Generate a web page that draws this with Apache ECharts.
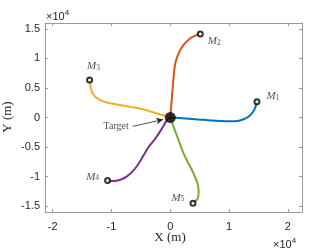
<!DOCTYPE html>
<html><head><meta charset="utf-8">
<script src="https://cdn.jsdelivr.net/npm/echarts@6/dist/echarts.min.js"></script>
<style>html,body{margin:0;padding:0;background:#fff}#c{width:333px;height:250px}</style>
</head><body><div id="c"></div>
<script>
// values in units of 1e4 m
const m1Path = [[1.474,0.265],[1.434,0.141],[1.361,0.039],[1.247,-0.029],[1.105,-0.063],[0.935,-0.063],[0.709,-0.051],[0.482,-0.034],[0.255,-0.017],[0,0]];
const m2Path = [[0.510,1.414],[0.425,1.386],[0.340,1.341],[0.227,1.228],[0.142,1.087],[0.085,0.917],[0.057,0.689],[0.034,0.407],[0,0]];
const m3Path = [[-1.372,0.633],[-1.361,0.548],[-1.332,0.435],[-1.276,0.350],[-1.190,0.294],[-1.077,0.255],[-0.907,0.221],[-0.680,0.180],[-0.454,0.136],[-0.226,0.068],[0,0]];
const m4Path = [[-1.066,-1.065],[-0.964,-1.076],[-0.850,-1.053],[-0.737,-0.997],[-0.624,-0.895],[-0.539,-0.781],[-0.454,-0.640],[-0.369,-0.499],[-0.255,-0.357],[-0.141,-0.187],[-0.056,-0.046],[0,0]];
const m5Path = [[0.386,-1.45],[0.465,-1.375],[0.482,-1.263],[0.465,-1.121],[0.397,-0.951],[0.312,-0.781],[0.227,-0.611],[0.142,-0.385],[0.057,-0.160],[0,0]];
const missileNames = ['1','2','3','4','5'];
const pathColors = ['#0072BD','#D95319','#EDB120','#7E2F8E','#77AC30'];
const target = [0,0];
const targetLabelPos = [-0.92,-0.15];
const arrowStart = [-0.64,-0.15];
const arrowEnd = [-0.12,-0.035];
const xRange = [-2.13, 2.24];
const yRange = [-1.6, 1.6];

const paths = [m1Path,m2Path,m3Path,m4Path,m5Path];
const labelPlacement = [
  {position:'right', offset:[1,-7]},
  {position:'right', offset:[-1,6]},
  {position:'top', offset:[4,0]},
  {position:'left', offset:[0,-5]},
  {position:'left', offset:[0,-7]}
];
const tickFont = {fontFamily:'Liberation Sans, Arial, sans-serif', fontSize:11, color:'#262626'};
const axisCol = '#9a9a9a';
function axisX(pos, showLabel){
  return {type:'value', position:pos, min:xRange[0], max:xRange[1], splitNumber:5,
    axisLine:{show:true, onZero:false, lineStyle:{color:axisCol,width:1}},
    axisTick:{show:true, inside:true, length:3, lineStyle:{color:axisCol}},
    axisLabel:Object.assign({show:showLabel, margin:9, showMinLabel:false, showMaxLabel:false}, tickFont),
    splitLine:{show:false}};
}
function axisY(pos, showLabel){
  return {type:'value', position:pos, min:yRange[0], max:yRange[1], splitNumber:6,
    axisLine:{show:true, onZero:false, lineStyle:{color:axisCol,width:1}},
    axisTick:{show:true, inside:true, length:3, lineStyle:{color:axisCol}},
    axisLabel:Object.assign({show:showLabel, margin:5, showMinLabel:false, showMaxLabel:false}, tickFont),
    splitLine:{show:false}};
}
const series = [];
paths.forEach((p,i)=>{
  series.push({type:'line', data:p, smooth:0.35, showSymbol:false, symbol:'none',
    lineStyle:{color:pathColors[i], width:2}, z:2, silent:true});
});
series.push({type:'scatter', z:5, silent:true,
  data: paths.map((p,i)=>({value:p[0], label:Object.assign({show:true, formatter:'{m|M}{s|'+missileNames[i]+'}'}, labelPlacement[i])})),
  symbol:'circle', symbolSize:5,
  itemStyle:{color:'#fff', borderColor:'#000', borderWidth:2},
  label:{rich:{m:{fontFamily:'Liberation Serif, serif', fontStyle:'italic', fontSize:11, color:'#262626', lineHeight:14, verticalAlign:'bottom'},
               s:{fontFamily:'Liberation Serif, serif', fontSize:7.5, color:'#262626', lineHeight:14, verticalAlign:'bottom', padding:[4,0,0,0]}}}
});
series.push({type:'scatter', z:6, silent:true, data:[target], symbol:'circle', symbolSize:11, itemStyle:{color:'#000'}});
series.push({type:'scatter', z:6, silent:true, data:[targetLabelPos], symbolSize:0,
  label:{show:true, position:'inside', formatter:'Target', fontFamily:'Liberation Serif, serif', fontSize:10, color:'#262626'}});
series.push({type:'line', data:[], silent:true,
  markLine:{silent:true, symbol:['none','arrow'], symbolSize:[5,7], label:{show:false},
    lineStyle:{color:'#262626', width:0.8, type:'solid'},
    data:[[{coord:arrowStart},{coord:arrowEnd}]]}});

const chart = echarts.init(document.getElementById('c'), null, {renderer:'canvas'});
chart.setOption({
  animation:false, backgroundColor:'#fff',
  grid:{left:45, right:31, top:23, bottom:38, containLabel:false},
  xAxis:[axisX('bottom', true), axisX('top', false)],
  yAxis:[axisY('left', true), axisY('right', false)],
  series: series,
  graphic:[
    {type:'text', left:'center', x:0, style:{text:'X (m)', x:170, y:238, align:'center', verticalAlign:'middle', font:'13px "Liberation Serif", serif', fill:'#262626'}, left:null},
    {type:'text', rotation:Math.PI/2, x:8, y:117, style:{text:'Y (m)', align:'center', verticalAlign:'middle', font:'13px "Liberation Serif", serif', fill:'#262626'}},
    {type:'text', x:46, y:16, style:{text:'{a|×10}{b|4}', rich:{a:{font:'11px "Liberation Sans", Arial', fill:'#262626', verticalAlign:'bottom', lineHeight:12}, b:{font:'8px "Liberation Sans", Arial', fill:'#262626', verticalAlign:'bottom', lineHeight:12, padding:[0,0,5,0]}}, verticalAlign:'middle'}},
    {type:'text', x:273, y:244, style:{text:'{a|×10}{b|4}', rich:{a:{font:'11px "Liberation Sans", Arial', fill:'#262626', verticalAlign:'bottom', lineHeight:12}, b:{font:'8px "Liberation Sans", Arial', fill:'#262626', verticalAlign:'bottom', lineHeight:12, padding:[0,0,5,0]}}, verticalAlign:'middle'}}
  ]
});
</script></body></html>
